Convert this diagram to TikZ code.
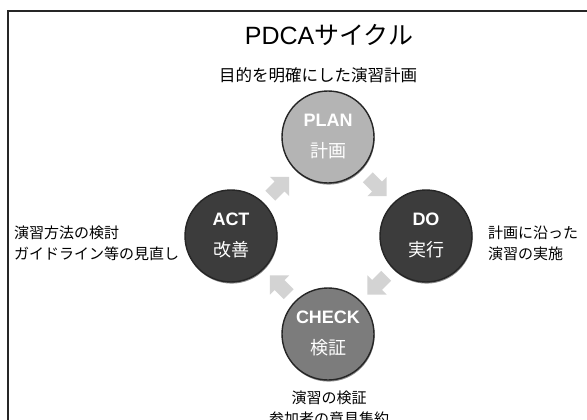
\documentclass[tikz,border=0pt]{standalone}
\usepackage{fontspec}
\setmainfont{Liberation Sans}
\newfontfamily\jp{Noto Sans CJK JP}
\usetikzlibrary{shadows,calc}
\definecolor{planfill}{HTML}{B4B4B4}
\definecolor{checkfill}{HTML}{7C7C7C}
\definecolor{darkfill}{HTML}{3C3C3C}
\definecolor{rimcol}{HTML}{262626}
\definecolor{arrowcol}{HTML}{D3D3D3}
\tikzset{
  phase/.style={circle, minimum size=92pt, inner sep=0pt, draw=rimcol, line width=1.4pt,
    drop shadow={shadow xshift=0.6pt, shadow yshift=-1.6pt, opacity=0.45, fill=black}},
  phaselabel/.style={text=white, font=\bfseries\fontsize{18}{20}\selectfont, inner sep=0pt},
  phasejp/.style={text=white, font=\jp\fontsize{18}{20}\selectfont, inner sep=0pt},
  note/.style={font=\jp\fontsize{15}{21}\selectfont, inner sep=0pt, align=left}
}
\newcommand{\blockarr}[2]{%
  \fill[arrowcol, shift={(#1)}, rotate=#2]
    (-13,-7) -- (0,-7) -- (0,-13.5) -- (13.5,0) -- (0,13.5) -- (0,7) -- (-13,7) -- cycle;}
\begin{document}
\begin{tikzpicture}[x=1pt, y=-1pt]
\useasboundingbox (0,0) rectangle (587,420);
\fill[white] (0,0) rectangle (587,420);
\draw[line width=1.2pt, black!85] (8,440) -- (8,11) -- (600,11);

\node[inner sep=0pt, font=\fontsize{25}{28}\selectfont] (title) at (329,35) {PDCA{\jp サイクル}};
\node[note, font=\jp\fontsize{16.5}{21}\selectfont] (plannote) at (318,75) {目的を明確にした演習計画};

\node[phase, fill=planfill] (plan) at (328,137) {};
\node[phase, fill=darkfill] (do) at (426,236) {};
\node[phase, fill=checkfill] (check) at (328,334) {};
\node[phase, fill=darkfill] (act) at (231,236) {};

\node[phaselabel] (planA) at ([yshift=17pt]plan.center) {PLAN};
\node[phasejp] (planB) at ([yshift=-14pt]plan.center) {計画};
\node[phaselabel] (doA) at ([yshift=17pt]do.center) {DO};
\node[phasejp] (doB) at ([yshift=-14pt]do.center) {実行};
\node[phaselabel] (checkA) at ([yshift=17pt]check.center) {CHECK};
\node[phasejp] (checkB) at ([yshift=-14pt]check.center) {検証};
\node[phaselabel] (actA) at ([yshift=17pt]act.center) {ACT};
\node[phasejp] (actB) at ([yshift=-14pt]act.center) {改善};

\node[note, anchor=west] (actnote) at (14,243) {演習方法の検討\\ガイドライン等の見直し};
\node[note, anchor=west] (donote) at (488,243) {計画に沿った\\演習の実施};
\node[note, align=center, anchor=north] (checknote) at (329,391) {演習の検証\\参加者の意見集約};

\coordinate (a1) at ($(plan)!0.5!(do)$);
\coordinate (a2) at ($(do)!0.5!(check)$);
\coordinate (a3) at ($(check)!0.5!(act)$);
\coordinate (a4) at ($(act)!0.5!(plan)$);
\blockarr{a1}{-45}
\blockarr{a2}{-135}
\blockarr{a3}{135}
\blockarr{a4}{45}
\end{tikzpicture}
\end{document}
